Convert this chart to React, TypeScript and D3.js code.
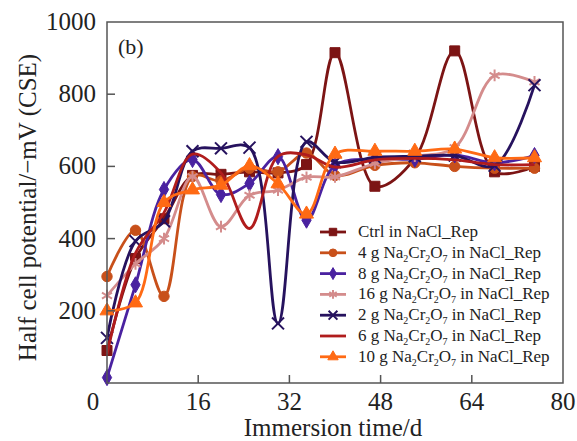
import React from "react";
import * as d3 from "d3";

// Immersion days at which half-cell potentials were recorded
const days = [0, 5, 10, 15, 20, 25, 30, 35, 40, 47, 54, 61, 68, 75];

// Half-cell potential, −mV vs CSE
const ctrl = [90, 345, 455, 575, 578, 585, 582, 605, 915, 545, 622, 920, 585, 600];
const g4 = [295, 423, 240, 572, 560, 595, 585, 637, 575, 603, 610, 600, 595, 595];
const g8 = [15, 272, 536, 619, 522, 553, 627, 451, 603, 620, 620, 632, 610, 630];
const g16 = [242, 330, 400, 572, 433, 520, 534, 570, 571, 608, 628, 652, 852, 834];
const g2 = [125, 393, 448, 642, 650, 652, 165, 668, 612, 625, 628, 630, 602, 825];
const g6 = [80, 360, 472, 634, 582, 428, 628, 632, 598, 618, 622, 618, 605, 605];
const g10 = [200, 222, 500, 535, 548, 602, 552, 468, 634, 642, 642, 648, 624, 624];

const xTicks = [0, 16, 32, 48, 64, 80];
const yTicks = [200, 400, 600, 800, 1000];

type Series = {
  dose: string | null;
  values: number[];
  color: string;
  symbol: d3.SymbolType | null;
  size: number;
  stroke: boolean;
};

const series: Series[] = [
  { dose: null, values: ctrl, color: "#7c1414", symbol: d3.symbolSquare, size: 100, stroke: false },
  { dose: "4", values: g4, color: "#c8501a", symbol: d3.symbolCircle, size: 85, stroke: false },
  { dose: "8", values: g8, color: "#4a22a0", symbol: d3.symbolDiamond, size: 75, stroke: false },
  { dose: "16", values: g16, color: "#d48c8c", symbol: d3.symbolAsterisk, size: 95, stroke: true },
  { dose: "2", values: g2, color: "#26125e", symbol: d3.symbolTimes, size: 95, stroke: true },
  { dose: "6", values: g6, color: "#b01c1c", symbol: null, size: 0, stroke: false },
  { dose: "10", values: g10, color: "#ff6a14", symbol: d3.symbolTriangle, size: 85, stroke: false },
];

const W = 577;
const H = 441;
const left = 107;
const right = 563;
const top = 22;
const bottom = 383;

const x = d3.scaleLinear().domain([0, 80]).range([left, right]);
const y = d3.scaleLinear().domain([0, 1000]).range([bottom, top]);

const line = d3
  .line<number>()
  .x((_, i) => x(days[i]))
  .y((v) => y(v))
  .curve(d3.curveCatmullRom.alpha(0.5));

const font = '"Liberation Serif", "Times New Roman", Times, serif';

function Marker({ s, cx, cy }: { s: Series; cx: number; cy: number }) {
  if (!s.symbol) return null;
  const d = d3.symbol().type(s.symbol).size(s.size)() || "";
  return (
    <path
      d={d}
      transform={`translate(${cx},${cy})`}
      fill={s.stroke ? "none" : s.color}
      stroke={s.color}
      strokeWidth={s.stroke ? 2 : 1}
    />
  );
}

function LegendLabel({ dose }: { dose: string | null }) {
  if (dose === null) return <>Ctrl in NaCl_Rep</>;
  return (
    <>
      {dose} g Na
      <tspan fontSize={10} dy={4}>2</tspan>
      <tspan dy={-4}>Cr</tspan>
      <tspan fontSize={10} dy={4}>2</tspan>
      <tspan dy={-4}>O</tspan>
      <tspan fontSize={10} dy={4}>7</tspan>
      <tspan dy={-4}> in NaCl_Rep</tspan>
    </>
  );
}

export default function App() {
  const legendX = 320;
  const legendY = 232;
  const legendStep = 20.8;
  return (
    <svg
      width={W}
      height={H}
      style={{ position: "absolute", left: 0, top: 0, background: "#fff", fontFamily: font }}
    >
      <rect x={0} y={0} width={W} height={H} fill="#fff" />

      {/* series */}
      {series.map((s, si) => (
        <g key={si}>
          <path d={line(s.values) || ""} fill="none" stroke={s.color} strokeWidth={2.8} />
          {s.values.map((v, i) => (
            <Marker key={i} s={s} cx={x(days[i])} cy={y(v)} />
          ))}
        </g>
      ))}

      {/* frame */}
      <rect
        x={left}
        y={top}
        width={right - left}
        height={bottom - top}
        fill="none"
        stroke="#555"
        strokeWidth={1.5}
      />

      {/* y ticks */}
      {yTicks.map((t) => (
        <g key={t}>
          {t < 1000 && <line x1={left} x2={left + 8} y1={y(t)} y2={y(t)} stroke="#555" strokeWidth={1.5} />}
          <text x={left - 11} y={y(t) + 8} textAnchor="end" fontSize={25} fill="#222">
            {t}
          </text>
        </g>
      ))}

      {/* x ticks */}
      {xTicks.map((t) => (
        <g key={t}>
          {t > 0 && t < 80 && (
            <line x1={x(t)} x2={x(t)} y1={bottom} y2={bottom - 8} stroke="#555" strokeWidth={1.5} />
          )}
          <text
            x={t === 0 ? x(t) - 14 : x(t)}
            y={bottom + 27}
            textAnchor="middle"
            fontSize={25}
            fill="#222"
          >
            {t}
          </text>
        </g>
      ))}

      {/* axis titles */}
      <text x={333} y={436} textAnchor="middle" fontSize={25} fill="#222">
        Immersion time/d
      </text>
      <text
        transform={`translate(36, ${(top + bottom) / 2 + 5}) rotate(-90)`}
        textAnchor="middle"
        fontSize={25}
        fill="#222"
      >
        Half cell potential/−mV (CSE)
      </text>

      <text x={118} y={54} fontSize={22} fill="#222">
        (b)
      </text>

      {/* legend */}
      {series.map((s, i) => {
        const ly = legendY + i * legendStep;
        return (
          <g key={i}>
            <line x1={legendX} x2={legendX + 26} y1={ly} y2={ly} stroke={s.color} strokeWidth={2.8} />
            <Marker s={{ ...s, size: s.size * 0.55 }} cx={legendX + 13} cy={ly} />
            <text x={legendX + 38} y={ly + 5} fontSize={17} fill="#222">
              <LegendLabel dose={s.dose} />
            </text>
          </g>
        );
      })}
    </svg>
  );
}
